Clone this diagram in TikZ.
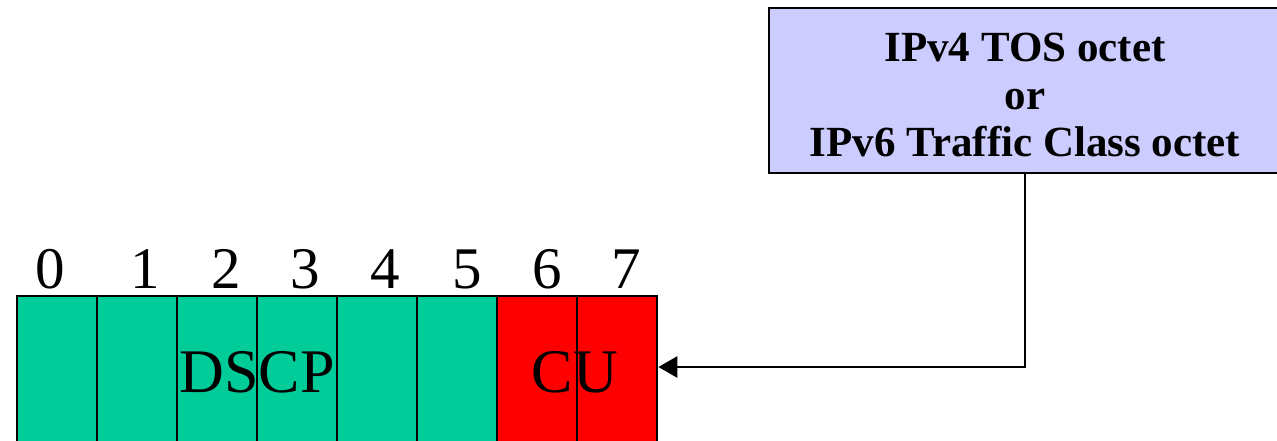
\documentclass[tikz,border=0pt]{standalone}
\usepackage{fontspec}
\setmainfont{Liberation Serif}
\usetikzlibrary{arrows.meta}
\definecolor{dscpgreen}{RGB}{0,204,153}
\definecolor{cured}{RGB}{255,0,0}
\definecolor{octetblue}{RGB}{204,204,255}
\begin{document}
\begin{tikzpicture}[x=1pt,y=-1pt,
  cell/.style={draw=black, line width=2.7pt, rectangle, inner sep=0pt,
               minimum width=80pt, minimum height=154pt},
  dscpcell/.style={cell, fill=dscpgreen},
  cucell/.style={cell, fill=cured},
  bitnum/.style={anchor=base, inner sep=0pt, font=\fontsize{59}{60}\selectfont},
  fieldname/.style={anchor=base, inner sep=0pt, font=\fontsize{62}{62}\selectfont},
  octetbox/.style={draw=black, line width=2.7pt, fill=octetblue, rectangle,
               inner sep=0pt, minimum width=516pt, minimum height=165pt},
  octettext/.style={inner sep=0pt, align=center,
               font=\bfseries\fontsize{43}{47.5}\selectfont},
  link/.style={draw=black, line width=2.7pt, -{Triangle[length=19pt,width=21pt]}}
]
\useasboundingbox (0,0) rectangle (1277,440);
\clip (0,0) rectangle (1277,440);

% the eight bits of the octet
\node[dscpcell] (b0) at (57,373) {};
\node[dscpcell] (b1) at (137,373) {};
\node[dscpcell] (b2) at (217,373) {};
\node[dscpcell] (b3) at (297,373) {};
\node[dscpcell] (b4) at (377,373) {};
\node[dscpcell] (b5) at (457,373) {};
\node[cucell] (b6) at (537,373) {};
\node[cucell] (b7) at (617,373) {};

% bit numbers
\node[bitnum] (n0) at (50,288) {0};
\node[bitnum] (n1) at (145,288) {1};
\node[bitnum] (n2) at (226,288) {2};
\node[bitnum] (n3) at (305,288) {3};
\node[bitnum] (n4) at (385,288) {4};
\node[bitnum] (n5) at (467,288) {5};
\node[bitnum] (n6) at (547,288) {6};
\node[bitnum] (n7) at (626,288) {7};

% field names
\node[fieldname] (dscp) at (257,392) {DSCP};
\node[fieldname] (cu) at (575,392) {CU};

% the octet description
\node[octetbox] (octet) at (1027,90.5) {};
\node[octettext] (octetlabel) at (1025,95) {IPv4 TOS octet\\or\\IPv6 Traffic Class octet};

% connector from the description to the octet
\coordinate (bend) at (1025,367);
\draw[link] (octet.south -| bend) -- (bend) -- (b7.east |- bend);
\end{tikzpicture}
\end{document}
